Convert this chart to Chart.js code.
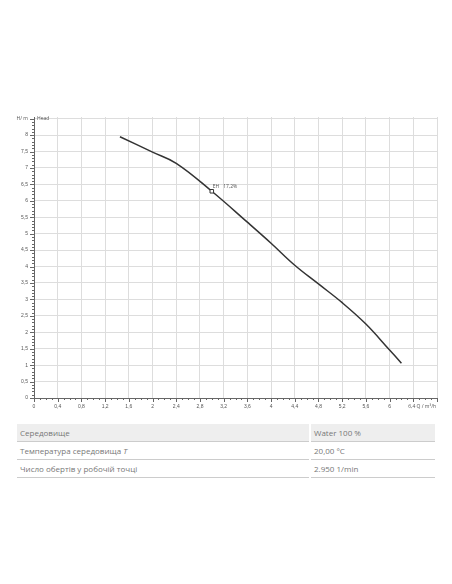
<!DOCTYPE html>
<html><head><meta charset="utf-8">
<script src="https://cdn.jsdelivr.net/npm/chart.js@4"></script>
<style>
body{margin:0;background:#fff;font-family:"Open Sans",sans-serif;}
#wrap{position:absolute;left:0;top:0;width:452px;height:415px;}
table{position:absolute;left:17px;top:424px;width:418px;border-collapse:collapse;font-size:8px;color:#777;}
td{height:17px;padding:0 3px;border-bottom:1.5px solid #ccc;}
tr:first-child td{background:#eee;}
td.r{border-left:2px solid #fff;width:118px;}
</style></head><body>
<div id="wrap"><canvas id="c" width="452" height="415"></canvas></div>
<table>
<tr><td>Середовище</td><td class="r">Water 100 %</td></tr>
<tr><td>Температура середовища <i>T</i></td><td class="r">20,00 °C</td></tr>
<tr><td>Число обертів у робочій точці</td><td class="r">2.950 1/min</td></tr>
</table>
<script>
const flowQ=[1.45,2.0,2.4,3.0,3.6,4.0,4.4,4.8,5.2,5.6,6.0,6.2];
const headH=[7.95,7.48,7.14,6.29,5.35,4.71,4.04,3.47,2.9,2.25,1.46,1.06];
const dutyQ=[3.0], dutyH=[6.29];
const fmt=v=>String(Math.round(v*10)/10).replace('.',',');
const extra={id:'extra',afterDraw(ch){
 const c=ch.ctx,x=ch.scales.x,y=ch.scales.y,a=ch.chartArea;
 c.save();c.strokeStyle='#666';c.lineWidth=1;
 for(let v=0;v<=6.8001;v+=0.1){const px=Math.round(x.getPixelForValue(v))+.5;c.beginPath();c.moveTo(px,a.bottom);c.lineTo(px,a.bottom+(Math.abs(v/0.4-Math.round(v/0.4))<1e-6?4:2));c.stroke();}
 for(let v=0;v<=8.5001;v+=0.1){const py=Math.round(y.getPixelForValue(v))+.5;c.beginPath();c.moveTo(a.left,py);c.lineTo(a.left-(Math.abs(v/0.5-Math.round(v/0.5))<1e-6?4:2),py);c.stroke();}
 c.fillStyle='#555';c.font='5px "Open Sans"';c.textAlign='right';c.textBaseline='middle';
 c.fillText('H/ m',a.left-6,a.top+2);
 c.textAlign='left';c.fillText('Head',a.left+3,a.top+2);
 c.textAlign='center';c.textBaseline='top';c.fillText('6,4 Q / m³/h',x.getPixelForValue(6.55),a.bottom+6);
 const px=x.getPixelForValue(dutyQ[0]),py=y.getPixelForValue(dutyH[0]);
 c.textAlign='left';c.textBaseline='bottom';c.fillText('EH   17,2%',px+1,py-2);
 c.restore();}};
new Chart(document.getElementById('c'),{type:'scatter',
 data:{datasets:[
  {data:dutyQ.map((q,i)=>({x:q,y:dutyH[i]})),pointStyle:'rect',pointRadius:2.5,borderColor:'#333',backgroundColor:'#fff',borderWidth:1},
  {data:flowQ.map((q,i)=>({x:q,y:headH[i]})),showLine:true,borderColor:'#333',borderWidth:1.5,pointRadius:0,tension:0.4}]},
 options:{responsive:false,animation:false,plugins:{legend:{display:false},tooltip:{enabled:false}},
  layout:{padding:{top:117,right:15,left:0,bottom:0}},
  scales:{
   x:{type:'linear',min:0,max:6.8,afterBuildTicks:s=>{s.ticks=[];for(let i=0;i<=17;i++)s.ticks.push({value:i*0.4});},
     afterFit:s=>{s.height=17},border:{color:'#666'},grid:{color:'#ddd',drawTicks:false},
     ticks:{color:'#555',font:{size:5},padding:6,maxRotation:0,autoSkip:false,callback:v=>v>6.3?'':fmt(v)}},
   y:{type:'linear',min:0,max:8.55,afterBuildTicks:s=>{s.ticks=[];for(let i=0;i<=17;i++)s.ticks.push({value:i*0.5});},
     afterFit:s=>{s.width=34},border:{color:'#666'},grid:{color:'#ddd',drawTicks:false},
     ticks:{color:'#555',font:{size:5},padding:6,autoSkip:false,callback:v=>v>8.2?'':fmt(v)}}}},
 plugins:[extra]});
</script></body></html>
